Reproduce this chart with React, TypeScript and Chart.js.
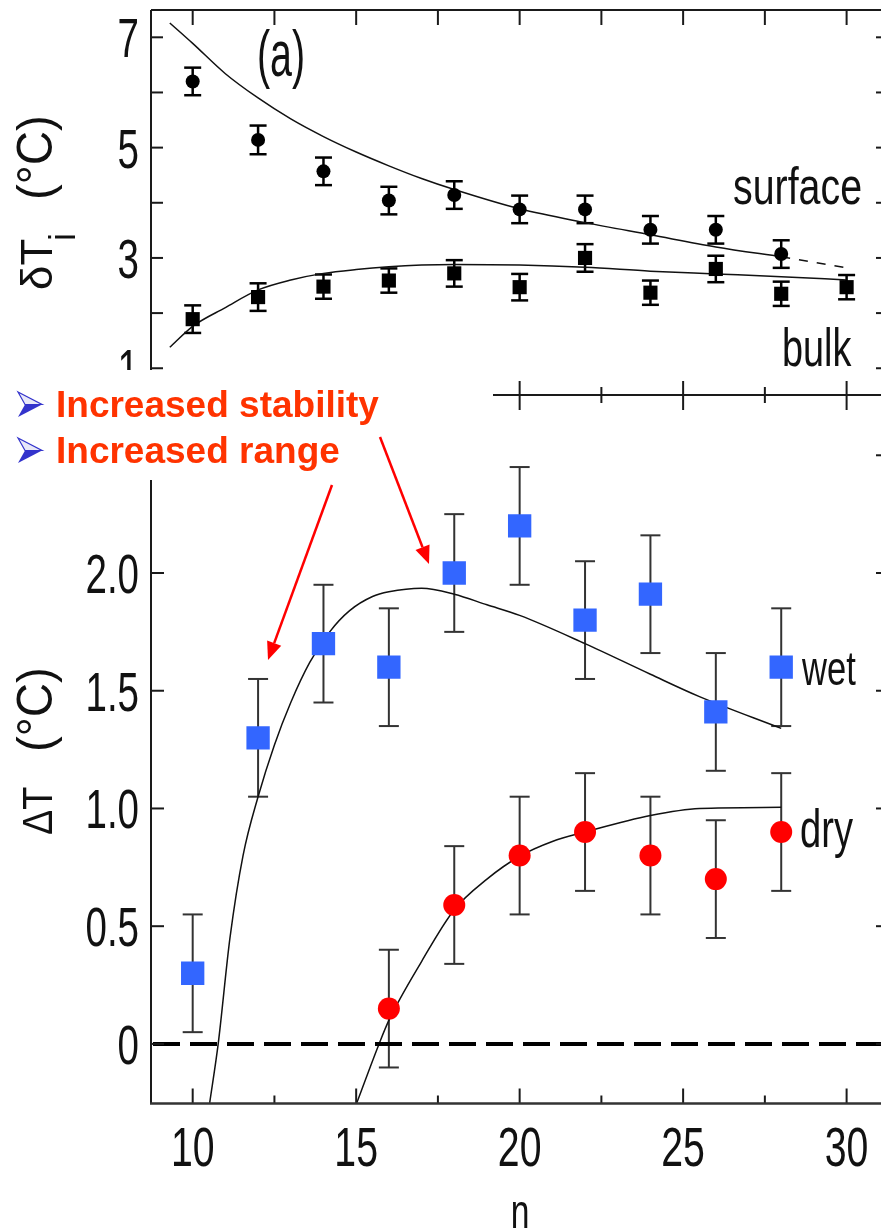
import React, { useEffect, useRef } from 'react';
import { Chart, registerables } from 'chart.js';

Chart.register(...registerables);

const W = 881;
const H = 1231;

// ---------------- data ----------------
// x axis (n)
const nMajorTicks = [10, 15, 20, 25, 30];
const nMinorTicks = [12.5, 17.5, 22.5, 27.5];
const nTickLabels = ['10', '15', '20', '25', '30'];

// top panel (a): deltaT_i
const topMajorTicks = [1, 3, 5, 7];
const topMinorTicks = [2, 4, 6];
const topTickLabels = ['1', '3', '5', '7'];

const surfaceN = [10, 12, 14, 16, 18, 20, 22, 24, 26, 28];
const surfaceVals = [6.2, 5.14, 4.57, 4.04, 4.14, 3.88, 3.88, 3.51, 3.51, 3.07];
const surfaceErr = [0.25, 0.26, 0.25, 0.25, 0.25, 0.25, 0.25, 0.25, 0.25, 0.25];

const bulkN = [10, 12, 14, 16, 18, 20, 22, 24, 26, 28, 30];
const bulkVals = [1.89, 2.29, 2.48, 2.59, 2.72, 2.47, 3.0, 2.37, 2.8, 2.35, 2.47];
const bulkErr = [0.25, 0.25, 0.22, 0.22, 0.24, 0.24, 0.25, 0.22, 0.24, 0.22, 0.22];

const surfaceFitN = [9.3, 10, 11, 12, 13, 14, 15, 16, 17, 18, 20, 22, 24, 26, 28];
const surfaceFitV = [7.26, 6.89, 6.34, 5.9, 5.52, 5.2, 4.92, 4.67, 4.44, 4.24, 3.89, 3.64, 3.42, 3.2, 3.02];
const surfaceExtN = [28, 29, 30];
const surfaceExtV = [3.02, 2.92, 2.82];

const bulkFitN = [9.3, 10, 11, 12, 13, 14, 15, 16, 17, 18, 20, 22, 24, 26, 28, 30];
const bulkFitV = [1.38, 1.76, 2.1, 2.42, 2.6, 2.72, 2.79, 2.84, 2.87, 2.88, 2.87, 2.83, 2.76, 2.71, 2.66, 2.6];

// bottom panel: DeltaT
const botTicks = [0, 0.5, 1, 1.5, 2, 2.5];
const botTickLabels = ['0', '0.5', '1.0', '1.5', '2.0', ''];

const wetN = [10, 12, 14, 16, 18, 20, 22, 24, 26, 28];
const wetVals = [0.3, 1.3, 1.7, 1.6, 2.0, 2.2, 1.8, 1.91, 1.41, 1.6];
const wetErr = [0.25, 0.25, 0.25, 0.25, 0.25, 0.25, 0.25, 0.25, 0.25, 0.25];

const dryN = [16, 18, 20, 22, 24, 26, 28];
const dryVals = [0.15, 0.59, 0.8, 0.9, 0.8, 0.7, 0.9];
const dryErr = [0.25, 0.25, 0.25, 0.25, 0.25, 0.25, 0.25];

const wetFitN = [10.52, 10.78, 11.14, 11.54, 12, 12.5, 13, 13.58, 14.19, 14.8, 15.5, 16, 17, 18, 19, 20, 22, 24, 25.5, 28];
const wetFitV = [-0.25, 0, 0.45, 0.8, 1.05, 1.27, 1.45, 1.62, 1.75, 1.84, 1.9, 1.92, 1.935, 1.91, 1.865, 1.82, 1.7, 1.57, 1.475, 1.34];

const dryFitN = [15.02, 15.7, 16, 17, 18, 19, 20, 21, 22, 24, 25.5, 28];
const dryFitV = [-0.25, 0, 0.1, 0.35, 0.57, 0.7, 0.797, 0.86, 0.9, 0.97, 1.0, 1.005];

const TOP_TEXT = ['(a)', 'surface', 'bulk'];
const BOT_TEXT = ['wet', 'dry', 'n'];
const NOTES = ['Increased stability', 'Increased range'];

// ---------------- helpers ----------------
const FONT = '"Liberation Sans", Arial, Helvetica, sans-serif';

const pts = (xs: number[], ys: number[]) => xs.map((x, i) => ({ x, y: ys[i] }));

function drawText(ctx: CanvasRenderingContext2D, s: string, x: number, y: number, o: any) {
  ctx.save();
  ctx.translate(x, y);
  if (o.rot) ctx.rotate(o.rot);
  ctx.scale(o.sx ?? 1, 1);
  ctx.font = `${o.weight || 'normal'} ${o.size}px ${o.family || FONT}`;
  ctx.fillStyle = o.color || '#111';
  ctx.textAlign = o.align || 'left';
  ctx.textBaseline = 'alphabetic';
  ctx.fillText(s, 0, 0);
  ctx.restore();
}

function seg(ctx: CanvasRenderingContext2D, x1: number, y1: number, x2: number, y2: number) {
  ctx.beginPath();
  ctx.moveTo(x1, y1);
  ctx.lineTo(x2, y2);
  ctx.stroke();
}

function arrow(ctx: CanvasRenderingContext2D, x1: number, y1: number, x2: number, y2: number) {
  const ang = Math.atan2(y2 - y1, x2 - x1);
  const L = 18;
  const hw = 7.5;
  const bx = x2 - L * Math.cos(ang);
  const by = y2 - L * Math.sin(ang);
  seg(ctx, x1, y1, bx, by);
  ctx.beginPath();
  ctx.moveTo(x2, y2);
  ctx.lineTo(bx + hw * Math.sin(ang), by - hw * Math.cos(ang));
  ctx.lineTo(bx - hw * Math.sin(ang), by + hw * Math.cos(ang));
  ctx.closePath();
  ctx.fill();
}

function bullet(ctx: CanvasRenderingContext2D, x: number, y: number) {
  // arrowhead bullet (like the PowerPoint ➢ bullet)
  const w = 24, h = 25;
  const tipX = x + w, midY = y + h / 2, notchX = x + 7;
  ctx.save();
  ctx.beginPath();
  ctx.moveTo(x, y);
  ctx.lineTo(tipX, midY);
  ctx.lineTo(notchX, midY);
  ctx.closePath();
  ctx.fillStyle = '#e8e8f8';
  ctx.fill();
  ctx.strokeStyle = '#3333cc';
  ctx.lineWidth = 1.2;
  ctx.stroke();
  ctx.beginPath();
  ctx.moveTo(notchX, midY);
  ctx.lineTo(tipX, midY);
  ctx.lineTo(x, y + h);
  ctx.closePath();
  ctx.fillStyle = '#3333cc';
  ctx.fill();
  ctx.restore();
}

const errorBarPlugin = {
  id: 'errorBars',
  beforeDatasetsDraw(chart: any) {
    const ctx = chart.ctx as CanvasRenderingContext2D;
    const ys = chart.scales.y;
    chart.data.datasets.forEach((ds: any, di: number) => {
      if (!ds.errors) return;
      const meta = chart.getDatasetMeta(di);
      ctx.save();
      ctx.strokeStyle = ds.errorColor || '#222';
      ctx.lineWidth = ds.errorWidth || 2;
      const cap = ds.capHalf || 8;
      meta.data.forEach((el: any, i: number) => {
        const v = ds.data[i].y;
        const e = ds.errors[i];
        const yt = ys.getPixelForValue(v + e);
        const yb = ys.getPixelForValue(v - e);
        seg(ctx, el.x, yt, el.x, yb);
        seg(ctx, el.x - cap, yt, el.x + cap, yt);
        seg(ctx, el.x - cap, yb, el.x + cap, yb);
      });
      ctx.restore();
    });
  },
};

const topFramePlugin = {
  id: 'topFrame',
  afterDraw(chart: any) {
    const ctx = chart.ctx as CanvasRenderingContext2D;
    const a = chart.chartArea;
    const xs = chart.scales.x;
    const ys = chart.scales.y;
    ctx.save();
    ctx.strokeStyle = '#1a1a1a';
    ctx.lineWidth = 2;
    seg(ctx, a.left, a.top, W, a.top);
    seg(ctx, a.left, a.top, a.left, a.bottom);
    seg(ctx, a.left, a.bottom, W, a.bottom);
    nMajorTicks.forEach((v) => {
      const px = xs.getPixelForValue(v);
      seg(ctx, px, a.top, px, a.top + 15);
      seg(ctx, px, a.bottom, px, a.bottom - 14);
    });
    nMinorTicks.forEach((v) => {
      const px = xs.getPixelForValue(v);
      seg(ctx, px, a.top, px, a.top + 15);
      seg(ctx, px, a.bottom, px, a.bottom - 8);
    });
    [...topMajorTicks, ...topMinorTicks].forEach((v) => {
      const py = ys.getPixelForValue(v);
      seg(ctx, a.left, py, a.left + 12, py);
      seg(ctx, a.right - 5, py, a.right, py);
    });
    topMajorTicks.forEach((v, i) => {
      drawText(ctx, topTickLabels[i], 139, ys.getPixelForValue(v) + 20, { size: 55, sx: 0.7, align: 'right' });
    });
    drawText(ctx, TOP_TEXT[0], 257, 76, { size: 64, sx: 0.615 });
    drawText(ctx, TOP_TEXT[1], 733, 204, { size: 52, sx: 0.757 });
    drawText(ctx, TOP_TEXT[2], 782, 366, { size: 54, sx: 0.7 });
    // y title: deltaT_i (°C)
    drawText(ctx, 'δT', 52, 290, { size: 44, rot: -Math.PI / 2 });
    drawText(ctx, 'i', 75, 241, { size: 36, rot: -Math.PI / 2 });
    drawText(ctx, '(°C)', 52, 200, { size: 50, sx: 0.95, rot: -Math.PI / 2 });
    ctx.restore();
  },
};

const botFramePlugin = {
  id: 'botFrame',
  afterDatasetsDraw(chart: any) {
    const ctx = chart.ctx as CanvasRenderingContext2D;
    const a = chart.chartArea;
    const ys = chart.scales.y;
    const y0 = ys.getPixelForValue(0);
    ctx.save();
    ctx.strokeStyle = '#000';
    ctx.lineWidth = 4;
    ctx.setLineDash([27, 10]);
    seg(ctx, a.left + 2, y0, W, y0);
    ctx.restore();
  },
  afterDraw(chart: any) {
    const ctx = chart.ctx as CanvasRenderingContext2D;
    const a = chart.chartArea;
    const xs = chart.scales.x;
    const ys = chart.scales.y;
    ctx.save();
    ctx.strokeStyle = '#1a1a1a';
    ctx.lineWidth = 2;
    seg(ctx, a.left, a.top, W, a.top);
    seg(ctx, a.left, a.top, a.left, a.bottom);
    nMajorTicks.forEach((v) => {
      const px = xs.getPixelForValue(v);
      seg(ctx, px, a.top, px, a.top + 15);
      seg(ctx, px, a.bottom, px, a.bottom - 15);
    });
    nMinorTicks.forEach((v) => {
      const px = xs.getPixelForValue(v);
      seg(ctx, px, a.top, px, a.top + 8);
      seg(ctx, px, a.bottom, px, a.bottom - 8);
    });
    botTicks.forEach((v) => {
      const py = ys.getPixelForValue(v);
      seg(ctx, a.left, py, a.left + 13, py);
      seg(ctx, a.right - 5, py, a.right, py);
    });
    ctx.strokeStyle = '#333';
    ctx.lineWidth = 2.5;
    seg(ctx, a.left - 1, a.bottom, W, a.bottom);

    botTicks.forEach((v, i) => {
      if (!botTickLabels[i]) return;
      drawText(ctx, botTickLabels[i], 139, ys.getPixelForValue(v) + 20, { size: 55, sx: 0.7, align: 'right' });
    });
    nMajorTicks.forEach((v, i) => {
      drawText(ctx, nTickLabels[i], xs.getPixelForValue(v), 1166, { size: 56, sx: 0.7, align: 'center' });
    });
    drawText(ctx, BOT_TEXT[2], 520, 1228, { size: 48, sx: 0.7, align: 'center' });
    drawText(ctx, BOT_TEXT[0], 802, 685, { size: 48, sx: 0.72 });
    drawText(ctx, BOT_TEXT[1], 800, 847, { size: 53, sx: 0.72 });
    // y title: DeltaT (°C)
    drawText(ctx, 'ΔT', 52, 835, { size: 42, sx: 0.9, rot: -Math.PI / 2 });
    drawText(ctx, '(°C)', 52, 752, { size: 50, sx: 0.95, rot: -Math.PI / 2 });

    // annotation overlay
    ctx.fillStyle = '#ffffff';
    ctx.fillRect(0, 370, 493, 110);
    bullet(ctx, 18, 392);
    bullet(ctx, 18, 438);
    drawText(ctx, NOTES[0], 56, 417, { size: 37, weight: 'bold', color: '#ff3300' });
    drawText(ctx, NOTES[1], 56, 463, { size: 37, weight: 'bold', color: '#ff3300' });
    ctx.strokeStyle = '#ff0000';
    ctx.fillStyle = '#ff0000';
    ctx.lineWidth = 2.5;
    arrow(ctx, 380, 437, 429, 564);
    arrow(ctx, 332, 485, 268, 660);
    ctx.restore();
  },
};

const lineDs = (data: any[], extra: any = {}) => ({
  data,
  showLine: true,
  borderColor: '#111',
  borderWidth: 1.5,
  pointRadius: 0,
  cubicInterpolationMode: 'monotone',
  fill: false,
  ...extra,
});

export default function App() {
  const topRef = useRef<HTMLCanvasElement>(null);
  const botRef = useRef<HTMLCanvasElement>(null);

  useEffect(() => {
    const common: any = {
      responsive: false,
      animation: false,
      devicePixelRatio: 1,
      events: [],
      plugins: { legend: { display: false }, tooltip: { enabled: false } },
    };

    const c1 = new Chart(topRef.current as HTMLCanvasElement, {
      type: 'line',
      data: {
        datasets: [
          {
            data: pts(surfaceN, surfaceVals),
            showLine: false,
            pointStyle: 'circle',
            pointRadius: 7,
            pointBackgroundColor: '#000',
            pointBorderWidth: 0,
            errors: surfaceErr,
            errorColor: '#000',
            errorWidth: 2.5,
            capHalf: 8.5,
          } as any,
          {
            data: pts(bulkN, bulkVals),
            showLine: false,
            pointStyle: 'rect',
            pointRadius: 10,
            pointBackgroundColor: '#000',
            pointBorderWidth: 0,
            errors: bulkErr,
            errorColor: '#000',
            errorWidth: 2.5,
            capHalf: 8.5,
          } as any,
          lineDs(pts(surfaceFitN, surfaceFitV)),
          lineDs(pts(surfaceExtN, surfaceExtV), { borderDash: [9, 9] }),
          lineDs(pts(bulkFitN, bulkFitV)),
        ],
      },
      options: {
        ...common,
        layout: { autoPadding: false, padding: { left: 151, right: 0, top: 10, bottom: H - 395 } },
        scales: {
          x: { type: 'linear', min: 8.725, max: 31.052, display: false },
          y: { type: 'linear', min: 0.515, max: 7.495, display: false },
        },
      },
      plugins: [errorBarPlugin, topFramePlugin],
    } as any);

    const c2 = new Chart(botRef.current as HTMLCanvasElement, {
      type: 'line',
      data: {
        datasets: [
          {
            data: pts(wetN, wetVals),
            showLine: false,
            pointStyle: 'rect',
            pointRadius: 16.5,
            pointBackgroundColor: '#3366ff',
            pointBorderWidth: 0,
            errors: wetErr,
            errorColor: '#333',
            errorWidth: 2,
            capHalf: 10,
          } as any,
          {
            data: pts(dryN, dryVals),
            showLine: false,
            pointStyle: 'circle',
            pointRadius: 11,
            pointBackgroundColor: '#ff0000',
            pointBorderWidth: 0,
            errors: dryErr,
            errorColor: '#333',
            errorWidth: 2,
            capHalf: 10,
          } as any,
          lineDs(pts(wetFitN, wetFitV)),
          lineDs(pts(dryFitN, dryFitV)),
        ],
      },
      options: {
        ...common,
        layout: { autoPadding: false, padding: { left: 151, right: 0, top: 395, bottom: H - 1103.5 } },
        scales: {
          x: { type: 'linear', min: 8.725, max: 31.052, display: false },
          y: { type: 'linear', min: -0.253, max: 2.756, display: false },
        },
      },
      plugins: [errorBarPlugin, botFramePlugin],
    } as any);

    return () => {
      c1.destroy();
      c2.destroy();
    };
  }, []);

  return (
    <div style={{ position: 'absolute', left: 0, top: 0, width: W, height: H, background: '#ffffff', overflow: 'hidden' }}>
      <canvas ref={topRef} width={W} height={H} style={{ position: 'absolute', left: 0, top: 0 }} />
      <canvas ref={botRef} width={W} height={H} style={{ position: 'absolute', left: 0, top: 0 }} />
    </div>
  );
}
